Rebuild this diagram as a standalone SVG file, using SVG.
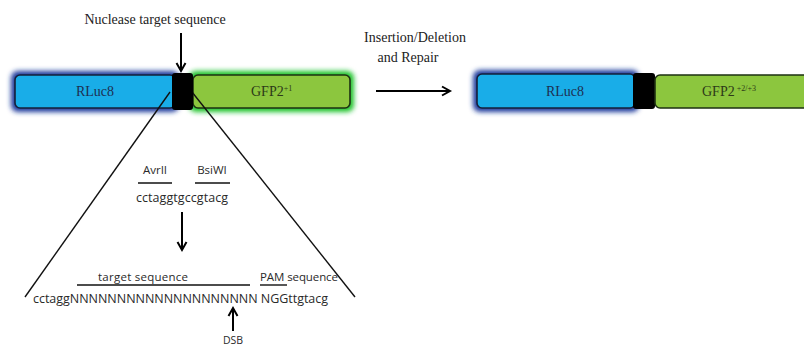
<svg xmlns="http://www.w3.org/2000/svg" width="804" height="347" viewBox="0 0 804 347">
<defs>
<filter id="glow" x="-20%" y="-60%" width="140%" height="220%"><feGaussianBlur stdDeviation="2.5"/></filter>
<marker id="ah" markerWidth="12" markerHeight="12" refX="9" refY="6" orient="auto" markerUnits="userSpaceOnUse"><path d="M1,1.5 L9,6 L1,10.5" fill="none" stroke="#000" stroke-width="2"/></marker>
<style>
.serif{font-family:"Liberation Serif",serif;fill:#222}
.sans{font-family:"Open Sans","Liberation Sans",sans-serif;fill:#2a2a2a}
.blue{fill:#19ade8;stroke:#15203a;stroke-width:1.6}
.green{fill:#8cc63e;stroke:#1d3012;stroke-width:1.6}
.blk{fill:#000}
.ln{stroke:#111;stroke-width:1.4;fill:none}
.arr{stroke:#000;stroke-width:2;fill:none}
.lbl{font-family:"Liberation Serif",serif;font-size:14px;fill:#1e2f52}
.glab{font-family:"Liberation Serif",serif;font-size:14px;fill:#2d3a18}
</style>
</defs>
<rect width="804" height="347" fill="#fff"/>
<g id="connectors">
<line class="arr" x1="181" y1="33" x2="181" y2="71" marker-end="url(#ah)"/>
<line class="arr" x1="376" y1="91" x2="450" y2="91" marker-end="url(#ah)"/>
<line class="arr" x1="182" y1="212" x2="182" y2="250" marker-end="url(#ah)"/>
<line class="arr" x1="233" y1="331" x2="233" y2="308" marker-end="url(#ah)"/>
</g>
<g id="construct-left">
<rect x="11" y="71" width="168" height="41" rx="7" fill="#1f3a9c" filter="url(#glow)"/>
<rect x="189" y="71" width="165" height="41" rx="7" fill="#1fc22a" filter="url(#glow)"/>
<rect class="blue" x="15" y="75" width="160" height="33" rx="5"/>
<rect class="green" x="193" y="75" width="157" height="33" rx="5"/>
<text class="lbl" x="95" y="96" text-anchor="middle">RLuc8</text>
<text class="glab" x="251" y="96">GFP2<tspan font-size="8" dy="-5">+1</tspan></text>
</g>
<g id="triangle">
<line class="ln" x1="170" y1="92" x2="25" y2="297"/>
<line class="ln" x1="192" y1="92" x2="355" y2="297"/>
</g>
<g id="nuclease-block">
<rect class="blk" x="172" y="73" width="21" height="37" rx="3"/>
</g>
<g id="nuclease-label">
<text class="serif" x="155" y="24" font-size="14" text-anchor="middle">Nuclease target sequence</text>
</g>
<g id="repair-label">
<text class="serif" x="415" y="42" font-size="14" text-anchor="middle">Insertion/Deletion</text>
<text class="serif" x="408" y="62" font-size="14" text-anchor="middle">and Repair</text>
</g>
<g id="construct-right">
<rect x="473" y="70" width="166" height="42" rx="7" fill="#1f3a9c" filter="url(#glow)"/>
<rect class="blue" x="477" y="74" width="158" height="34" rx="5"/>
<rect class="blk" x="633" y="73" width="22" height="36" rx="3"/>
<rect class="green" x="655" y="75" width="170" height="33" rx="5"/>
<text class="lbl" x="565" y="96" text-anchor="middle">RLuc8</text>
<text class="glab" x="702" y="96">GFP2<tspan font-size="8" dy="-5"> +2/+3</tspan></text>
</g>
<g id="sites">
<text class="sans" x="155" y="174" font-size="11.5" text-anchor="middle">AvrII</text>
<line class="ln" x1="138" y1="183" x2="172" y2="183"/>
<text class="sans" x="212" y="174" font-size="11.5" text-anchor="middle">BsiWI</text>
<line class="ln" x1="195" y1="183" x2="230" y2="183"/>
<text class="sans" x="182" y="202" font-size="12.5" text-anchor="middle" textLength="92">cctaggtgccgtacg</text>
</g>
<g id="target">
<text class="sans" x="143" y="281" font-size="11.5" text-anchor="middle" textLength="90">target sequence</text>
<line class="ln" x1="77" y1="285" x2="250" y2="285"/>
<text class="sans" x="260" y="281" font-size="11.5" textLength="78">PAM sequence</text>
<line class="ln" x1="260" y1="285" x2="287" y2="285"/>
<text class="sans" x="33" y="303" font-size="12.5" textLength="295">cctaggNNNNNNNNNNNNNNNNNNNN NGGttgtacg</text>
<text class="sans" x="233" y="344" font-size="10.5" text-anchor="middle">DSB</text>
</g>
</svg>
